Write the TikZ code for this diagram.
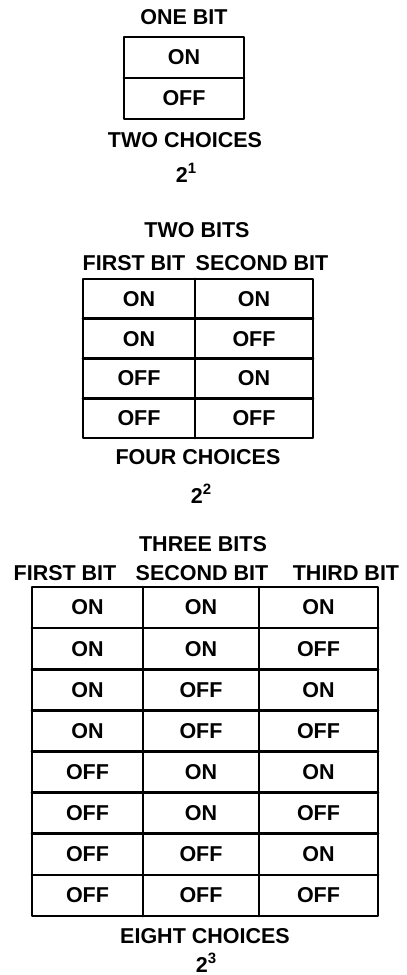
\documentclass[tikz,border=0pt]{standalone}
\usepackage{fontspec}
\setmainfont{Liberation Sans}
\begin{document}
\begin{tikzpicture}[x=1pt,y=-1pt,
  lbl/.style={font=\fontsize{21.5}{24}\selectfont\bfseries, inner sep=0pt, anchor=center},
  pow/.style={font=\fontsize{21.5}{24}\selectfont\bfseries, inner sep=0pt, anchor=base},
  gridline/.style={line width=2.7pt, line cap=round, line join=round}]
\newcommand{\supx}[1]{\raisebox{0.4em}{\fontsize{15}{15}\selectfont\bfseries #1}}
\useasboundingbox (0,0) rectangle (407,975);

% ---------- one bit ----------
\node[lbl] (t1title) at (184,17) {ONE BIT};
\draw[gridline] (124,37) rectangle (244,119);
\draw[gridline] (124,78) -- (244,78);
\node[lbl] (t1r1) at (184,57.5) {ON};
\node[lbl] (t1r2) at (184,98.5) {OFF};
\node[lbl] (t1cap) at (185,140) {TWO CHOICES};
\node[pow] (t1pow) at (186,182) {2\supx{1}};

% ---------- two bits ----------
\node[lbl] (t2title) at (197,230) {TWO BITS};
\node[lbl] (t2h1) at (134,263) {FIRST BIT};
\node[lbl] (t2h2) at (262,263) {SECOND BIT};
\draw[gridline] (83,279) rectangle (313,438);
\foreach \k in {1,2,3} \draw[gridline] (83,{279+39.75*\k}) -- (313,{279+39.75*\k});
\draw[gridline] (195,279) -- (195,438);
\foreach \a/\b [count=\i] in {ON/ON, ON/OFF, OFF/ON, OFF/OFF} {
  \node[lbl] (t2r\i a) at (139,{279+39.75*(\i-0.5)}) {\a};
  \node[lbl] (t2r\i b) at (254,{279+39.75*(\i-0.5)}) {\b};
}
\node[lbl] (t2cap) at (198,457) {FOUR CHOICES};
\node[pow] (t2pow) at (201,503) {2\supx{2}};

% ---------- three bits ----------
\node[lbl] (t3title) at (203,544) {THREE BITS};
\node[lbl] (t3h1) at (65,573) {FIRST BIT};
\node[lbl] (t3h2) at (202,573) {SECOND BIT};
\node[lbl] (t3h3) at (346,573) {THIRD BIT};
\draw[gridline] (32,587) rectangle (378,916);
\foreach \k in {1,...,7} \draw[gridline] (32,{587+41.125*\k}) -- (378,{587+41.125*\k});
\draw[gridline] (143,587) -- (143,916);
\draw[gridline] (259,587) -- (259,916);
\foreach \a/\b/\c [count=\i] in {ON/ON/ON, ON/ON/OFF, ON/OFF/ON, ON/OFF/OFF, OFF/ON/ON, OFF/ON/OFF, OFF/OFF/ON, OFF/OFF/OFF} {
  \node[lbl] (t3r\i a) at (87.5,{587+41.125*(\i-0.5)}) {\a};
  \node[lbl] (t3r\i b) at (201,{587+41.125*(\i-0.5)}) {\b};
  \node[lbl] (t3r\i c) at (318.5,{587+41.125*(\i-0.5)}) {\c};
}
\node[lbl] (t3cap) at (205,936) {EIGHT CHOICES};
\node[pow] (t3pow) at (206,972) {2\supx{3}};
\end{tikzpicture}
\end{document}
